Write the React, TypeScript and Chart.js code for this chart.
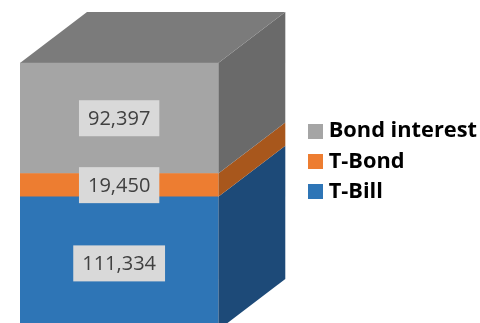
import { useEffect, useRef } from "react";
import { Chart, registerables } from "chart.js";

Chart.register(...registerables);

const categories = ["Interest"];
const seriesNames = ["T-Bill", "T-Bond", "Bond interest"];
const tBill = [111334];
const tBond = [19450];
const bondInterest = [92397];

const frontColors = ["#2e75b6", "#ed7d31", "#a5a5a5"];
const sideColors = ["#1d4a78", "#a8571c", "#6a6a6a"];
const topColor = "#7b7b7b";
const DEPTH_X = 67;
const DEPTH_Y = 51;
const FONT = "'Open Sans', sans-serif";

const swatch = (color: string) => {
  const c = document.createElement("canvas");
  c.width = 15;
  c.height = 15;
  const g = c.getContext("2d")!;
  g.fillStyle = color;
  g.fillRect(0, 0, 15, 15);
  return c;
};

// Extrudes each stacked segment to the upper right, with a lid over the last one.
const extrusion = {
  id: "extrusion",
  beforeDatasetsDraw(chart: any) {
    const { ctx } = chart;
    const quad = (pts: number[][], fill: string) => {
      ctx.beginPath();
      pts.forEach(([x, y], i) => (i ? ctx.lineTo(x, y) : ctx.moveTo(x, y)));
      ctx.closePath();
      ctx.fillStyle = fill;
      ctx.fill();
    };
    ctx.save();
    chart.data.datasets.forEach((_: any, i: number) => {
      const bar = chart.getDatasetMeta(i).data[0];
      const right = bar.x + bar.width / 2;
      quad(
        [
          [right, bar.y],
          [right + DEPTH_X, bar.y - DEPTH_Y],
          [right + DEPTH_X, bar.base - DEPTH_Y],
          [right, bar.base],
        ],
        sideColors[i]
      );
    });
    const last = chart.getDatasetMeta(chart.data.datasets.length - 1).data[0];
    const l = last.x - last.width / 2;
    const r = last.x + last.width / 2;
    quad(
      [
        [l, last.y],
        [l + DEPTH_X, last.y - DEPTH_Y],
        [r + DEPTH_X, last.y - DEPTH_Y],
        [r, last.y],
      ],
      topColor
    );
    ctx.restore();
  },
};

// Value labels on a light plate, centred on each segment.
const plates = {
  id: "plates",
  afterDatasetsDraw(chart: any) {
    const { ctx } = chart;
    ctx.save();
    ctx.font = `20px ${FONT}`;
    ctx.textAlign = "center";
    ctx.textBaseline = "middle";
    chart.data.datasets.forEach((ds: any, i: number) => {
      const bar = chart.getDatasetMeta(i).data[0];
      const text = ds.data[0].toLocaleString("en-US");
      const w = ctx.measureText(text).width + 18;
      const h = 36;
      const cy = (bar.y + bar.base) / 2;
      ctx.fillStyle = "#d9d9d9";
      ctx.fillRect(bar.x - w / 2, cy - h / 2, w, h);
      ctx.fillStyle = "#404040";
      ctx.fillText(text, bar.x, cy + 1);
    });
    ctx.restore();
  },
};

export default function App() {
  const ref = useRef<HTMLCanvasElement>(null);

  useEffect(() => {
    const chart = new Chart(ref.current!, {
      type: "bar",
      data: {
        labels: categories,
        datasets: [tBill, tBond, bondInterest].map((data, i) => ({
          label: seriesNames[i],
          data,
          backgroundColor: frontColors[i],
          borderWidth: 0,
          barPercentage: 1,
          categoryPercentage: 1,
        })),
      },
      options: {
        responsive: false,
        animation: false,
        layout: { padding: { left: 20, right: -7, top: 0, bottom: 0 } },
        scales: {
          x: { stacked: true, display: false },
          y: {
            stacked: true,
            position: "right",
            min: 5850,
            max: 275800,
            ticks: { display: false },
            grid: { display: false },
            border: { display: false },
            afterFit(scale: any) {
              scale.width = 86;
            },
          },
        },
        plugins: {
          tooltip: { enabled: false },
          legend: {
            position: "right",
            reverse: true,
            maxWidth: 260,
            labels: {
              usePointStyle: true,
              pointStyleWidth: 5,
              boxHeight: 15,
              padding: 8.5,
              color: "#000000",
              font: { family: FONT, size: 21.8, weight: "bold" },
              generateLabels(chart: any) {
                return Chart.defaults.plugins.legend.labels
                  .generateLabels(chart)
                  .map((item: any, i: number) => ({
                    ...item,
                    pointStyle: swatch(frontColors[i]),
                  }));
              },
            },
          },
        },
      },
      plugins: [extrusion, plates],
    } as any);
    return () => chart.destroy();
  }, []);

  return (
    <div style={{ position: "fixed", left: 0, top: 0, width: 480, height: 323, background: "#fff" }}>
      <canvas ref={ref} width={480} height={323} style={{ display: "block" }} />
    </div>
  );
}
